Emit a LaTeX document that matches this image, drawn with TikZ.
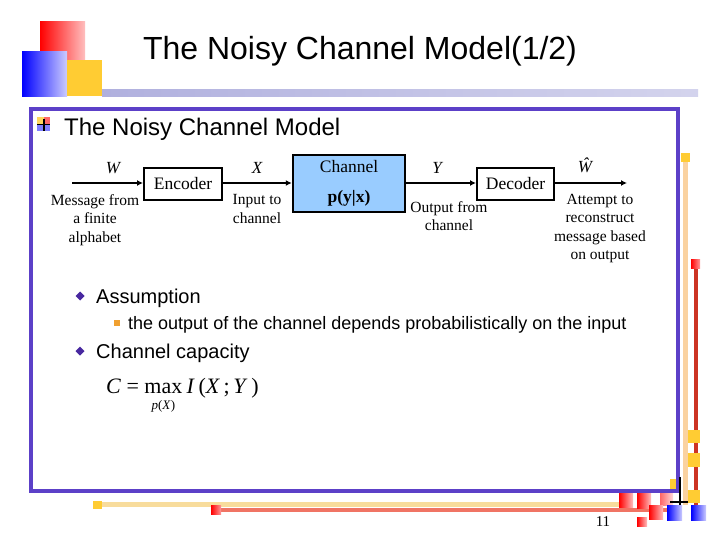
\documentclass[tikz,border=0pt]{standalone}
\usepackage{fontspec}
\setmainfont{Liberation Serif}
\setsansfont{Liberation Sans}
\usetikzlibrary{arrows.meta}
\definecolor{framec}{RGB}{92,64,200}
\definecolor{yellowc}{RGB}{255,204,51}
\definecolor{lavc}{RGB}{176,176,222}
\definecolor{peachc}{RGB}{250,210,160}
\definecolor{beigec}{RGB}{248,220,156}
\definecolor{redvc}{RGB}{204,52,36}
\definecolor{salmonc}{RGB}{240,116,100}
\definecolor{chanc}{RGB}{153,204,255}
\definecolor{bulletc}{RGB}{72,40,160}
\definecolor{orangec}{RGB}{240,160,48}
\tikzset{
  blockbox/.style={draw=black, line width=2pt, fill=white, inner sep=0pt,
    font=\fontsize{17.5}{20}\selectfont},
  flowarrow/.style={line width=1.6pt, -{Latex[length=6pt,width=6pt]}},
  varlabel/.style={font=\fontsize{17}{20}\selectfont\itshape, inner sep=0pt},
  desclabel/.style={font=\fontsize{15.5}{18.5}\selectfont, align=center, inner sep=0pt},
  sanstext/.style={font=\sffamily, inner sep=0pt, anchor=base west},
  redsq/.style={left color=red, right color=red!25},
  bluesq/.style={left color=blue, right color=blue!20},
  formula/.style={inner sep=0pt, anchor=base west, font=\fontsize{22}{26}\selectfont},
}
\begin{document}
\begin{tikzpicture}[x=1pt,y=-1pt]
\useasboundingbox (0,0) rectangle (720,540);
\fill[white] (0,0) rectangle (720,540);
% top-left decoration
\shade[redsq] (40,22) rectangle (85,67);
\shade[bluesq] (22,52) rectangle (67,97);
\fill[yellowc] (67,60) rectangle (102,96);
\shade[left color=lavc, right color=lavc!55] (102,90) rectangle (698,97);
% title
\node[font=\sffamily\fontsize{32}{36}\selectfont, inner sep=0pt, anchor=base] (title) at (360,60) {The Noisy Channel Model(1/2)};
% right decoration
\draw[peachc, line width=5pt] (685.5,160) -- (685.5,505);
\fill[yellowc] (681,153) rectangle (690,162);
\draw[redvc, line width=4pt] (695.5,266) -- (695.5,505);
\shade[left color=red, right color=red!40] (691,259) rectangle (700,268);
\fill[yellowc] (688,430) rectangle (700,443);
\fill[yellowc] (688,453) rectangle (700,467);
\fill[yellowc] (688,490) rectangle (700,503);
\fill[yellowc] (670,479) rectangle (677,491);
% bottom decoration
\draw[beigec, line width=5pt] (100,504.5) -- (625,504.5);
\fill[yellowc] (93,501) rectangle (102,509);
\draw[salmonc, line width=4pt] (219,510) -- (668,510);
\shade[left color=red, right color=red!40] (211,505) rectangle (221,514);
% frame
\draw[framec, line width=3.5pt] (31,109) rectangle (678,491);
% bottom-right squares
\shade[redsq] (619,493) rectangle (633,507);
\shade[redsq] (637,493) rectangle (651,508);
\shade[left color=red!60, right color=red!15] (660,493) rectangle (673,505);
\shade[redsq] (649,505) rectangle (663,519);
\shade[redsq] (637,517) rectangle (647,526);
\shade[bluesq] (667,505) rectangle (682,520);
\shade[bluesq] (691,505) rectangle (706,520);
\draw[black, line width=1.5pt] (680,477) -- (680,505) (670,502) -- (688,502);
\node[font=\fontsize{15}{18}\selectfont, inner sep=0pt] (pageno) at (603,522) {11};
% bullet icon
\fill[yellowc!80] (37,117) rectangle (44,124);
\fill[red!60] (44,117) rectangle (50,124);
\fill[blue!50] (37,124) rectangle (50,131);
\draw[black, line width=1.3pt] (44,119) -- (44,131) (37,124.5) -- (50,124.5);
\node[sanstext, font=\sffamily\fontsize{24}{28}\selectfont] (head) at (64,136) {The Noisy Channel Model};
% block diagram
\node[blockbox, minimum width=78pt, minimum height=32pt] (enc) at (183,184) {Encoder};
\node[blockbox, minimum width=112pt, minimum height=57pt, fill=chanc, line width=2.5pt, align=center, font=\fontsize{17.5}{30}\selectfont] (chan) at (349,183.5) {Channel\\\textbf{p(y|x)}};
\node[blockbox, minimum width=77pt, minimum height=32pt] (dec) at (515.5,184) {Decoder};
\coordinate (src) at (72,183);
\coordinate (snk) at (627,183);
\draw[flowarrow] (src) -- (src -| enc.west);
\draw[flowarrow] (enc.east |- src) -- (src -| chan.west);
\draw[flowarrow] (chan.east |- src) -- (src -| dec.west);
\draw[flowarrow] (dec.east |- src) -- (snk);
\node[varlabel] (lw) at (113,168) {W};
\node[varlabel] (lx) at (257,168) {X};
\node[varlabel] (ly) at (437,168) {Y};
\node[varlabel] (lwh) at (585,165) {\^{W}};
\node[desclabel] (dmsg) at (95,220) {Message from\\a finite\\alphabet};
\node[desclabel] (din) at (257,209) {Input to\\channel};
\node[desclabel] (dout) at (449,216) {Output from\\channel};
\node[desclabel] (datt) at (600,228.5) {Attempt to\\reconstruct\\message based\\on output};
% bullets
\fill[bulletc] (80,291.5) -- (84.5,296) -- (80,300.5) -- (75.5,296) -- cycle;
\node[sanstext, font=\sffamily\fontsize{20}{24}\selectfont] (assump) at (96,303) {Assumption};
\fill[orangec] (114,320) rectangle (120,326);
\node[sanstext, font=\sffamily\fontsize{18}{21}\selectfont] (sub) at (128,329) {the output of the channel depends probabilistically on the input};
\fill[bulletc] (80,346.5) -- (84.5,351) -- (80,355.5) -- (75.5,351) -- cycle;
\node[sanstext, font=\sffamily\fontsize{20}{24}\selectfont] (capac) at (96,358) {Channel capacity};
% formula
\node[formula] (fC) at (106,393) {\textit{C}\ =};
\node[formula] (fmax) at ([xshift=5pt]fC.base east) {max};
\node[formula] (fI) at ([xshift=4pt]fmax.base east) {\textit{I}\,(\textit{X}\,;\,\textit{Y}\,)};
\node[inner sep=0pt, anchor=base, font=\fontsize{13}{15}\selectfont] (fsub) at ([yshift=-16pt]fmax.base) {\textit{p}(\textit{X})};
\end{tikzpicture}
\end{document}
